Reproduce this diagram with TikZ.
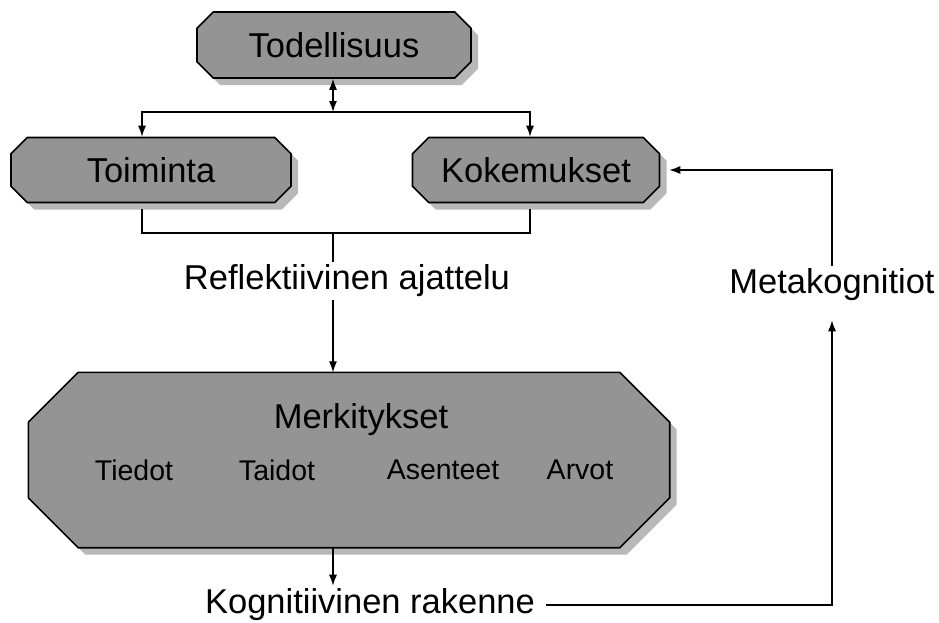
\documentclass[tikz,border=0pt]{standalone}
\usepackage{fontspec}
\setmainfont{Liberation Sans}
\usetikzlibrary{arrows.meta,shapes.misc,shadows}

\tikzset{
  boxfill/.style={draw=black, line width=1.6pt, fill=black!42,
    drop shadow={shadow xshift=7pt,shadow yshift=-7pt,fill=black!28,opacity=1}},
  box/.style={boxfill, chamfered rectangle, chamfered rectangle xsep=19pt,
    inner sep=0pt, font=\fontsize{34.5}{40}\selectfont},
  lbl/.style={font=\fontsize{34.5}{40}\selectfont, inner sep=3pt},
  item/.style={font=\fontsize{28.5}{34}\selectfont, inner sep=0pt},
  conn/.style={line width=1.3pt, -{Latex[length=11pt,width=8pt]}},
  link/.style={line width=1.3pt},
}

\begin{document}
\begin{tikzpicture}[x=1pt,y=-1pt]
\useasboundingbox (0,0) rectangle (939,622);
% boxes
\node[box, minimum width=274pt, minimum height=66pt] (real) at (334,45) {Todellisuus};
\node[box, minimum width=280pt, minimum height=65pt] (toim) at (151,170) {Toiminta};
\node[box, minimum width=247pt, minimum height=65pt] (koke) at (536,170) {Kokemukset};
\node[minimum width=641pt, minimum height=175pt, inner sep=0pt] (merk) at (349,460) {};
\path[boxfill] ([xshift=50pt]merk.north west) -- ([xshift=-50pt]merk.north east)
  -- ([yshift=-50pt]merk.north east) -- ([yshift=50pt]merk.south east)
  -- ([xshift=-50pt]merk.south east) -- ([xshift=50pt]merk.south west)
  -- ([yshift=50pt]merk.south west) -- ([yshift=-50pt]merk.north west) -- cycle;
\node[lbl] (merkt) at (361,420) {Merkitykset};
\foreach \name/\x in {Tiedot/134,Taidot/277,Asenteet/443,Arvot/580}
  \node[item] (\name) at (\x,470) {\name};
% free labels
\node[lbl] (refl) at (347,281) {Reflektiivinen ajattelu};
\node[lbl] (meta) at (832,285) {Metakognitiot};
\node[lbl] (kogn) at (370,605) {Kognitiivinen rakenne};
\coordinate (split) at (333,112);
\coordinate (join) at (333,233);
% connectors
\draw[link,{Latex[length=11pt,width=8pt]}-{Latex[length=11pt,width=8pt]}] (real.south -| split) -- (split);
\draw[conn] (split) -| ([xshift=-9pt]toim.north);
\draw[conn] (split) -| ([xshift=-6pt]koke.north);
\draw[link] ([xshift=-9pt,yshift=-6pt]toim.south) |- (join) -| ([xshift=-6pt,yshift=-6pt]koke.south);
\draw[link] (join) -- (refl.north -| join);
\draw[conn] (refl.south -| join) -- (merk.north -| join);
\draw[conn] (merk.south -| join) -- (kogn.north -| join);
\draw[conn] ([xshift=8pt]kogn.east) -| ([yshift=-16pt]meta.south);
\draw[conn] (meta.north) |- ([xshift=9pt]koke.east);
\end{tikzpicture}
\end{document}
